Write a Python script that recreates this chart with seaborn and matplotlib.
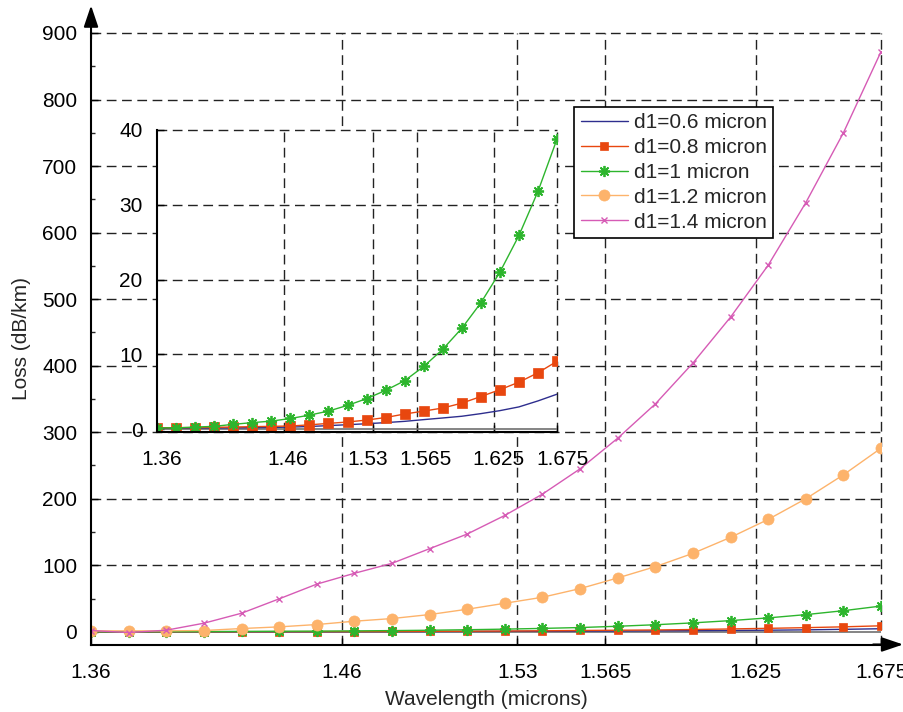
import matplotlib
matplotlib.use('Agg')
import matplotlib.pyplot as plt
import matplotlib.transforms as mtransforms
from matplotlib.ticker import MultipleLocator
import seaborn as sns

# wavelength samples (microns)
wavelength = [1.36, 1.375, 1.39, 1.405, 1.42, 1.435, 1.45, 1.465, 1.48, 1.495, 1.51,
              1.525, 1.54, 1.555, 1.57, 1.585, 1.6, 1.615, 1.63, 1.645, 1.66, 1.675]

# loss (dB/km)
loss_d06 = [0.15, 0.15, 0.16, 0.18, 0.2, 0.22, 0.25, 0.3, 0.38, 0.5, 0.62,
            0.75, 0.9, 1.07, 1.3, 1.52, 1.75, 2.1, 2.5, 3.0, 3.8, 4.7]
loss_d08 = [0.22, 0.22, 0.24, 0.27, 0.31, 0.36, 0.4, 0.45, 0.6, 0.8, 0.98,
            1.24, 1.58, 2.05, 2.44, 2.85, 3.5, 4.38, 5.3, 6.3, 7.56, 9.1]
loss_d10 = [0.2, 0.2, 0.3, 0.4, 0.67, 0.9, 1.1, 1.45, 1.9, 2.44, 3.2,
            4.1, 5.2, 6.5, 8.4, 10.7, 13.5, 16.9, 21.0, 25.9, 31.8, 38.8]
loss_d12 = [1.5, 1.5, 1.5, 2, 5, 7.5, 11, 16, 20, 26, 34,
            43, 52, 65, 81, 98, 118, 142, 169, 200, 236, 276]
loss_d14 = [2, -1, 2.5, 13, 28, 49.6, 71.7, 88, 103, 125, 147,
            175, 207, 245, 291, 342.5, 404, 473, 551, 645, 750, 872]

labels = ['d1=0.6 micron', 'd1=0.8 micron', 'd1=1 micron', 'd1=1.2 micron', 'd1=1.4 micron']
colors = ['#2e2e8e', '#e8470f', '#2db52d', '#fdb36b', '#d65bb5']

xticks = [1.36, 1.46, 1.53, 1.565, 1.625, 1.675]
xtick_labels = ['1.36', '1.46', '1.53', '1.565', '1.625', '1.675']
yticks_main = [0, 100, 200, 300, 400, 500, 600, 700, 800, 900]
yticks_inset = [0, 10, 20, 30, 40]

sns.set_theme(style='white')
plt.rcParams['font.family'] = ['Liberation Sans', 'DejaVu Sans']

grid_kw = dict(color='#222222', linestyle=(0, (7, 4)), linewidth=1.0)
star = (8, 2, 0)


def style_axes(ax, yticks, xpad, ypad):
    ax.set_xticks(xticks)
    ax.set_xticklabels(xtick_labels)
    ax.set_yticks(yticks)
    ax.set_yticklabels([str(v) for v in yticks])
    ax.grid(True, **grid_kw)
    ax.yaxis.get_major_ticks()[0].gridline.set_visible(False)
    ax.xaxis.get_major_ticks()[0].gridline.set_visible(False)
    for gl in ax.get_xgridlines() + ax.get_ygridlines():
        gl.set_clip_on(False)
    for s in ['top', 'right']:
        ax.spines[s].set_visible(False)
    for s in ['left', 'bottom']:
        ax.spines[s].set_color('black')
        ax.spines[s].set_linewidth(1.5)
    ax.tick_params(axis='both', which='major', direction='in', length=5, width=1,
                   labelsize=15, colors='black')
    ax.tick_params(axis='x', pad=xpad)
    ax.tick_params(axis='y', pad=ypad)
    ax.tick_params(left=True, bottom=True)
    ax.set_xlabel('')
    ax.set_ylabel('')


fig = plt.figure(figsize=(9.04, 7.12), dpi=100)

# main axes
ax = fig.add_axes([0.1007, 0.0948, 0.8739, 0.8589])
ax.axhline(0, color='#707070', lw=1.2, zorder=1.5)
sns.lineplot(x=wavelength, y=loss_d06, ax=ax, color=colors[0], lw=1, label=labels[0])
sns.lineplot(x=wavelength, y=loss_d08, ax=ax, color=colors[1], lw=1, marker='s',
             markersize=6, markeredgecolor=colors[1], markeredgewidth=0.5, label=labels[1])
sns.lineplot(x=wavelength, y=loss_d10, ax=ax, color=colors[2], lw=1, marker=star,
             markersize=8, markeredgecolor=colors[2], markeredgewidth=1.3, label=labels[2])
sns.lineplot(x=wavelength, y=loss_d12, ax=ax, color=colors[3], lw=1, marker='o',
             markersize=8, markeredgecolor=colors[3], markeredgewidth=0.5, label=labels[3])
sns.lineplot(x=wavelength, y=loss_d14, ax=ax, color=colors[4], lw=1, marker='x',
             markersize=5, markeredgecolor=colors[4], markeredgewidth=1.0, label=labels[4])
ax.set_xlim(1.36, 1.675)
ax.set_ylim(-19, 900)
style_axes(ax, yticks_main, xpad=13, ypad=10)
ax.yaxis.set_minor_locator(MultipleLocator(50))
ax.tick_params(axis='y', which='minor', direction='in', length=3, width=1, left=True)
ax.set_xlabel('Wavelength (microns)', fontsize=15)
ax.set_ylabel('Loss (dB/km)', fontsize=15)
ax.xaxis.set_label_coords(0.5, -0.074)
ax.yaxis.set_label_coords(-0.076, 0.5)

# axis arrows
arrow_kw = dict(arrowstyle='-|>,head_length=0.65,head_width=0.22', color='black',
                lw=1.5, mutation_scale=20, shrinkA=0, shrinkB=0)
ax.annotate('', xy=(0, 1.045), xytext=(0, 0.99), xycoords='axes fraction',
            arrowprops=arrow_kw, annotation_clip=False)
ax.annotate('', xy=(1.028, 0), xytext=(0.99, 0), xycoords='axes fraction',
            arrowprops=arrow_kw, annotation_clip=False)

leg = ax.legend(loc='upper right', bbox_to_anchor=(0.8633, 0.879), fontsize=15,
                frameon=True, fancybox=False, edgecolor='black', framealpha=1,
                labelspacing=0.28, handlelength=2.25, handletextpad=0.3,
                borderpad=0.3, borderaxespad=0)
leg.get_frame().set_linewidth(1.2)

# inset axes (zoom on the three lowest curves)
ins = fig.add_axes([0.1737, 0.3933, 0.4425, 0.4242])
ins.set_facecolor('white')
ins.axhline(0, color='#707070', lw=1.2, zorder=1.5)
sns.lineplot(x=wavelength, y=loss_d06, ax=ins, color=colors[0], lw=1, legend=False)
sns.lineplot(x=wavelength, y=loss_d08, ax=ins, color=colors[1], lw=1, marker='s',
             markersize=7.5, markeredgecolor=colors[1], markeredgewidth=0.5, legend=False)
sns.lineplot(x=wavelength, y=loss_d10, ax=ins, color=colors[2], lw=1, marker=star,
             markersize=8, markeredgecolor=colors[2], markeredgewidth=1.3, legend=False)
ins.set_xlim(1.36, 1.675)
ins.set_ylim(-0.35, 40)
style_axes(ins, yticks_inset, xpad=13, ypad=10.5)

# nudge inset tick labels like the original
offsets_px = [5, 3.5, -5.5, 8.5, 5, 5]
for lbl, dx in zip(ins.get_xticklabels(), offsets_px):
    lbl.set_transform(lbl.get_transform() +
                      mtransforms.ScaledTranslation(dx / 100, 0, fig.dpi_scale_trans))

fig.savefig('out.png', dpi=100)
